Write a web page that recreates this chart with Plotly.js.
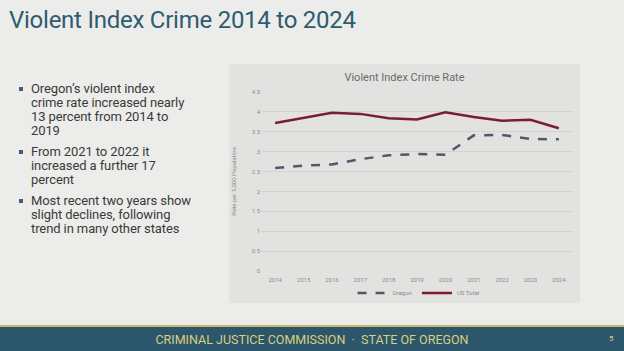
<!DOCTYPE html>
<html>
<head>
<meta charset="utf-8">
<script src="https://cdn.plot.ly/plotly-3.0.1.min.js"></script>
<style>
  html, body { margin:0; padding:0; width:624px; height:351px; overflow:hidden; background:#ecedea; }
  #slide { position:relative; width:624px; height:351px; background:#ecedea; font-family:Roboto, "Noto Sans", sans-serif; }
  #title { position:absolute; left:9px; top:6px; font-size:24px; color:#2f5b6f; white-space:nowrap; letter-spacing:-0.25px; }
  #bullets { position:absolute; left:18px; top:82px; width:200px; font-size:13px; line-height:14px; color:#3a3a3a; letter-spacing:-0.1px; white-space:nowrap; }
  .b { position:relative; padding-left:13px; margin-bottom:7px; }
  .b:before { content:""; position:absolute; left:1px; top:5px; width:4px; height:4px; background:#3f5e73; }
  #chart { position:absolute; left:229px; top:64px; width:351px; height:239px; }
  #gold { position:absolute; left:0; top:325px; width:624px; height:2px; background:#c6b96c; }
  #footer { position:absolute; left:0; top:327px; width:624px; height:24px; background:#2c566c; }
  #ftext { position:absolute; left:0; width:624px; top:5px; text-align:center; font-size:12.5px; color:#d9cf7e; letter-spacing:0px; }
  #page { position:absolute; left:609px; top:7px; font-size:8px; color:#d9cf7e; }
</style>
</head>
<body>
<div id="slide">
  <div id="title">Violent Index Crime 2014 to 2024</div>
  <div id="bullets">
    <div class="b">Oregon’s violent index<br>crime rate increased nearly<br>13 percent from 2014 to<br>2019</div>
    <div class="b">From 2021 to 2022 it<br>increased a further 17<br>percent</div>
    <div class="b">Most recent two years show<br>slight declines, following<br>trend in many other states</div>
  </div>
  <div id="chart"></div>
  <div id="gold"></div>
  <div id="footer"><div id="ftext">CRIMINAL JUSTICE COMMISSION &nbsp;·&nbsp; STATE OF OREGON</div><div id="page">5</div></div>
</div>
<script>
const years = ["2014","2015","2016","2017","2018","2019","2020","2021","2022","2023","2024"];
const oregon = [2.59, 2.65, 2.68, 2.81, 2.91, 2.94, 2.92, 3.41, 3.42, 3.32, 3.31];
const usTotal = [3.72, 3.85, 3.98, 3.95, 3.84, 3.81, 3.99, 3.87, 3.78, 3.80, 3.59];
const yTicks = [0, 0.5, 1, 1.5, 2, 2.5, 3, 3.5, 4, 4.5];

const traces = [
  { x: years, y: oregon, name: "Oregon", type: "scatter", mode: "lines",
    line: { color: "#4b5a6e", width: 2.5, dash: "dash" } },
  { x: years, y: usTotal, name: "US Total", type: "scatter", mode: "lines",
    line: { color: "#7a1d33", width: 2.5 } }
];

const layout = {
  width: 351, height: 239,
  margin: { l: 32, r: 7, t: 28, b: 32 },
  paper_bgcolor: "#e2e3e0",
  plot_bgcolor: "#e2e3e0",
  font: { family: "Roboto, 'Noto Sans', sans-serif", size: 6, color: "#8a8a8a" },
  title: { text: "Violent Index Crime Rate", x: 0.5, xanchor: "center", y: 0.945, yanchor: "middle",
           font: { size: 11, color: "#6a6a6a" } },
  xaxis: { type: "category", range: [-0.5, 10.5], showgrid: false, zeroline: false, showline: false,
           ticks: "", ticklabelstandoff: 4, tickfont: { size: 6, color: "#8a8a8a" }, automargin: false, fixedrange: true },
  yaxis: { range: [0, 4.5], tickvals: yTicks, showgrid: true, gridcolor: "#d2d4d1", gridwidth: 1,
           zeroline: false, showline: false, ticks: "", tickfont: { size: 6, color: "#8a8a8a" },
           title: { text: "Rate per 1,000 Population", font: { size: 6, color: "#8a8a8a" }, standoff: 14 },
           automargin: false, fixedrange: true },
  showlegend: true,
  legend: { orientation: "h", xref: "container", yref: "container", x: 0.54, xanchor: "center", y: 0.042, yanchor: "middle",
            font: { size: 6, color: "#8a8a8a" }, bgcolor: "rgba(0,0,0,0)", itemwidth: 30, tracegroupgap: 0 }
};

Plotly.newPlot("chart", traces, layout, { displayModeBar: false, staticPlot: true });
</script>
</body>
</html>
